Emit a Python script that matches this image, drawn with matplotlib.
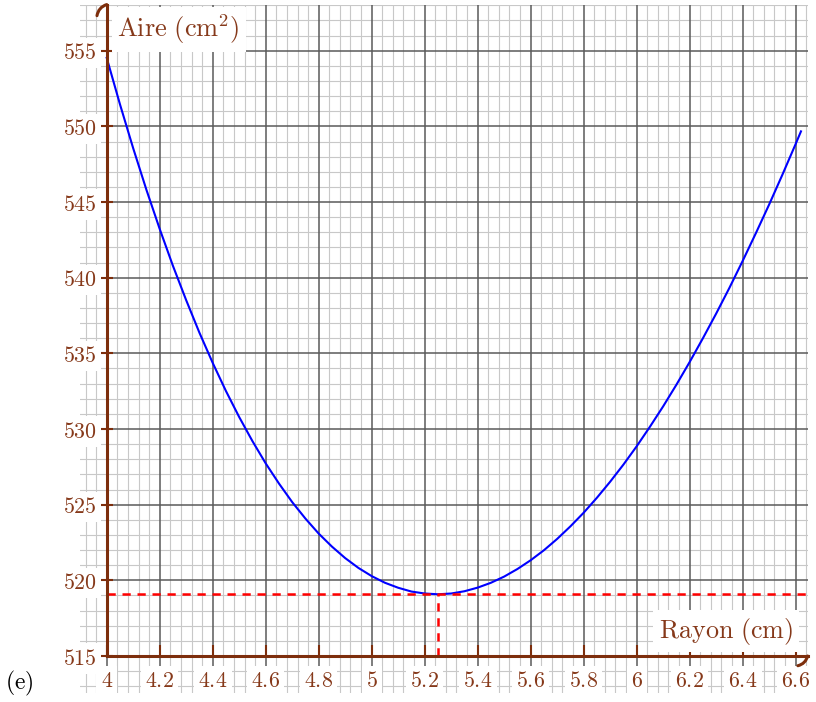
import numpy as np
import matplotlib
matplotlib.use("Agg")
import matplotlib.pyplot as plt

plt.rcParams['mathtext.fontset'] = 'cm'
plt.rcParams['font.family'] = 'DejaVu Serif'

# values (rayon in cm, aire in cm^2)
rayon = [4.00, 4.05, 4.10, 4.15, 4.20, 4.25, 4.30, 4.35, 4.40, 4.45, 4.50,
         4.55, 4.60, 4.65, 4.70, 4.75, 4.80, 4.85, 4.90, 4.95, 5.00, 5.05,
         5.10, 5.15, 5.20, 5.25, 5.30, 5.35, 5.40, 5.45, 5.50, 5.55, 5.60,
         5.65, 5.70, 5.75, 5.80, 5.85, 5.90, 5.95, 6.00, 6.05, 6.10, 6.15,
         6.20, 6.25, 6.30, 6.35, 6.40, 6.45, 6.50, 6.55, 6.60, 6.62]
aire = [554.53, 551.46, 548.55, 545.80, 543.22, 540.78, 538.51, 536.36,
        534.37, 532.51, 530.79, 529.20, 527.73, 526.40, 525.17, 524.08,
        523.09, 522.23, 521.47, 520.82, 520.28, 519.84, 519.51, 519.26,
        519.13, 519.08, 519.13, 519.28, 519.52, 519.84, 520.25, 520.75,
        521.33, 521.99, 522.74, 523.57, 524.47, 525.46, 526.52, 527.65,
        528.86, 530.15, 531.50, 532.93, 534.43, 536.00, 537.63, 539.33,
        541.11, 542.95, 544.84, 546.81, 548.84, 549.67]
r_min = 5.25
a_min = 519.08

x_ticks = [4, 4.2, 4.4, 4.6, 4.8, 5, 5.2, 5.4, 5.6, 5.8, 6, 6.2, 6.4, 6.6]
x_labels = ['4', '4.2', '4.4', '4.6', '4.8', '5', '5.2', '5.4', '5.6', '5.8',
            '6', '6.2', '6.4', '6.6']
y_ticks = [515, 520, 525, 530, 535, 540, 545, 550, 555]

brown = '#7d2e0c'
txt_brown = '#86391a'

fig = plt.figure(figsize=(8.16, 7.02), dpi=100)
ax = fig.add_axes([0.0983, 0.0127, 0.8914, 0.9808])
x0, x1 = 3.9, 6.645
y0, y1 = 512.55, 558.05
ax.set_xlim(x0, x1)
ax.set_ylim(y0, y1)

# millimetre-paper grid
for v in np.arange(3.92, 6.645, 0.04):
    major = abs(v / 0.2 - round(v / 0.2)) < 1e-6
    ax.axvline(v, color='#5a5a5a' if major else '#c8c8c8',
               lw=1.1 if major else 0.8, zorder=0.5 if major else 0)
for v in np.arange(513, 558.5, 1):
    major = int(round(v)) % 5 == 0
    ax.axhline(v, color='#5a5a5a' if major else '#c8c8c8',
               lw=1.1 if major else 0.8, zorder=0.5 if major else 0)

for s in ['top', 'right']:
    ax.spines[s].set_visible(False)
ax.spines['left'].set_position(('data', 4))
ax.spines['bottom'].set_position(('data', 515))
ax.spines['left'].set_bounds(515, y1)
ax.spines['bottom'].set_bounds(4, x1)
for s in ['left', 'bottom']:
    ax.spines[s].set_color(brown)
    ax.spines[s].set_linewidth(2.2)
    ax.spines[s].set_zorder(4)

ax.set_xticks(x_ticks, ['$' + l + '$' for l in x_labels])
ax.set_yticks(y_ticks, ['$%d$' % v for v in y_ticks])
ax.tick_params(axis='both', color=brown, width=1.5, length=8,
               direction='in', labelcolor=txt_brown, labelsize=15.8)
ax.tick_params(axis='x', pad=10)
ax.tick_params(axis='y', direction='inout', length=8, pad=3)
for lbl in ax.get_xticklabels() + ax.get_yticklabels():
    lbl.set_bbox(dict(facecolor='white', edgecolor='none', pad=3))

# arrow hooks
ax.annotate('', xy=(4, y1), xytext=(-7, -8), textcoords='offset points',
            arrowprops=dict(arrowstyle='-', color=brown, lw=2.2,
                            connectionstyle='arc3,rad=-0.3',
                            shrinkA=0, shrinkB=0), zorder=5)
ax.annotate('', xy=(x1, 515), xytext=(-7, -7), textcoords='offset points',
            arrowprops=dict(arrowstyle='-', color=brown, lw=2.2,
                            connectionstyle='arc3,rad=0.3',
                            shrinkA=0, shrinkB=0), zorder=5)

ax.plot(rayon, aire, color='#0000ff', lw=1.5, zorder=3)
ax.plot([4, x1], [a_min, a_min], color='#ff0000', lw=1.8,
        linestyle=(0, (3.3, 2.7)), zorder=3)
ax.plot([r_min, r_min], [515, a_min], color='#ff0000', lw=1.8,
        linestyle=(0, (3.3, 2.7)), zorder=3)

ax.text(4.272, 556.4, r'$\mathrm{Aire\ (cm^2)}$', color=txt_brown,
        fontsize=19, ha='center', va='center', zorder=6,
        bbox=dict(facecolor='white', edgecolor='none', pad=4))
ax.text(6.337, 516.65, r'$\mathrm{Rayon\ (cm)}$', color=txt_brown,
        fontsize=18.8, ha='center', va='center', zorder=6,
        bbox=dict(facecolor='white', edgecolor='none', pad=4))

fig.text(0.006, 0.006, r'$\mathrm{(e)}$', fontsize=17, color='black',
         ha='left', va='bottom')

fig.savefig('out.png', dpi=100)
